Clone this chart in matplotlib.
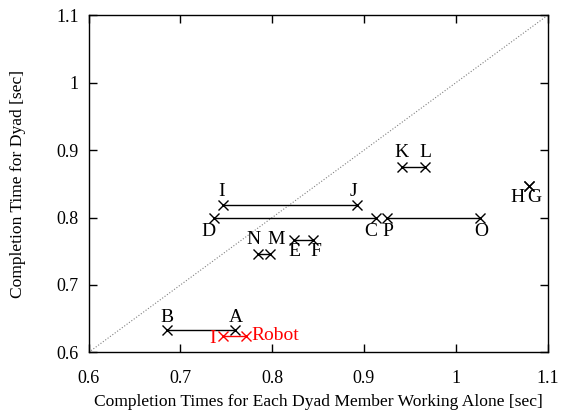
import numpy as np
import matplotlib
matplotlib.use("Agg")
import matplotlib.pyplot as plt

plt.rcParams["font.family"] = ["Liberation Serif", "DejaVu Serif"]

# dyad pairs: (label, x alone, y dyad)
pair_names = [("A", "B"), ("C", "D"), ("E", "F"), ("G", "H"), ("I", "J"),
              ("K", "L"), ("M", "N"), ("O", "P")]
pair_x = [(0.759, 0.685), (0.913, 0.737), (0.824, 0.845), (1.080, 1.080),
          (0.746, 0.892), (0.941, 0.967), (0.798, 0.784), (1.026, 0.925)]
pair_y = [0.633, 0.800, 0.766, 0.847, 0.818, 0.875, 0.746, 0.800]

robot_names = ["I", "Robot"]
robot_x = [0.746, 0.771]
robot_y = 0.625

# label offsets in points (dx, dy, ha, va)
offsets = {
    "A": (1, 3, "center", "bottom"), "B": (0, 3, "center", "bottom"),
    "C": (-4, -4, "center", "top"), "D": (-4, -4, "center", "top"),
    "E": (0, -2, "center", "top"), "F": (2, -2, "center", "top"),
    "G": (4, -2, "center", "top"), "H": (-8.5, -2, "center", "top"),
    "I": (-1, 4, "center", "bottom"), "J": (-2, 4, "center", "bottom"),
    "K": (0, 4, "center", "bottom"), "L": (0, 4, "center", "bottom"),
    "M": (4, 4, "center", "bottom"), "N": (-3, 4, "center", "bottom"),
    "O": (1, -4, "center", "top"), "P": (1, -4, "center", "top"),
}

fig = plt.figure(figsize=(5.61, 4.16), dpi=100)
ax = fig.add_axes([0.158, 0.153, 0.818, 0.81])

ax.plot([0.6, 1.1], [0.6, 1.1], color="gray", linestyle=":", linewidth=0.8)

for names, xs, y in zip(pair_names, pair_x, pair_y):
    ax.plot(xs, [y, y], color="black", linewidth=1.0, marker="x",
            markersize=7, markeredgewidth=1.0)
    for n, x in zip(names, xs):
        dx, dy, ha, va = offsets[n]
        ax.annotate(n, (x, y), xytext=(dx, dy), textcoords="offset points",
                    ha=ha, va=va, fontsize=14)

ax.plot(robot_x, [robot_y, robot_y], color="red", linewidth=1.0, marker="x",
        markersize=7, markeredgewidth=1.0)
ax.annotate(robot_names[0], (robot_x[0], robot_y), xytext=(-5, -2),
            textcoords="offset points", ha="right", va="center",
            fontsize=14, color="red")
ax.annotate(robot_names[1], (robot_x[1], robot_y), xytext=(4, 0),
            textcoords="offset points", ha="left", va="center",
            fontsize=14, color="red")

ticks = [0.6, 0.7, 0.8, 0.9, 1.0, 1.1]
tick_labels = ["0.6", "0.7", "0.8", "0.9", "1", "1.1"]
ax.set_xlim(0.6, 1.1)
ax.set_ylim(0.6, 1.1)
ax.set_xticks(ticks)
ax.set_xticklabels(tick_labels)
ax.set_yticks(ticks)
ax.set_yticklabels(tick_labels)
ax.tick_params(direction="in", top=True, right=True, length=6, width=1,
               labelsize=13, pad=7)
ax.tick_params(axis="x", pad=13)
for s in ax.spines.values():
    s.set_linewidth(1.0)

ax.set_xlabel("Completion Times for Each Dyad Member Working Alone [sec]",
              fontsize=12.6, labelpad=5)
ax.set_ylabel("Completion Time for Dyad [sec]", fontsize=12.6, labelpad=22)

fig.savefig("out.png", dpi=100)
